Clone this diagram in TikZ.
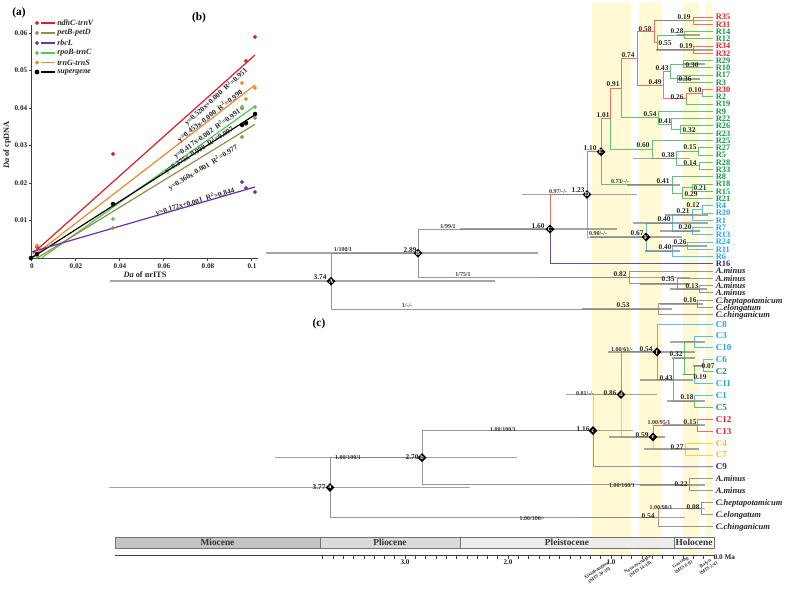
\documentclass[tikz,border=0pt]{standalone}
\usepackage{fontspec}
\setmainfont{Liberation Serif}
\usetikzlibrary{shapes.geometric}
\newcommand\myfs[1]{\fontsize{#1}{#1}\selectfont}
\definecolor{lr}{RGB}{226,32,38}
\definecolor{lg}{RGB}{22,150,72}
\definecolor{lb}{RGB}{36,164,228}
\definecolor{lp}{RGB}{44,36,146}
\definecolor{ly}{RGB}{244,188,30}
\definecolor{er}{RGB}{236,112,102}
\definecolor{eg}{RGB}{104,192,118}
\definecolor{eb}{RGB}{96,186,234}
\definecolor{ep}{RGB}{92,82,172}
\definecolor{ey}{RGB}{248,210,74}
\definecolor{ek}{RGB}{150,150,150}
\definecolor{bandc}{RGB}{255,250,212}
\definecolor{cr}{RGB}{220,30,40}
\definecolor{co}{RGB}{150,140,72}
\definecolor{cp}{RGB}{104,52,172}
\definecolor{cg}{RGB}{86,198,86}
\definecolor{cor}{RGB}{242,136,44}
\definecolor{mioc}{RGB}{196,196,196}
\definecolor{plioc}{RGB}{218,218,218}
\definecolor{pleic}{RGB}{236,236,236}
\definecolor{holoc}{RGB}{246,246,246}
\begin{document}
\begin{tikzpicture}[x=0.75pt,y=-0.75pt,
  e/.style={line width=0.6pt},
  hpd/.style={draw=black!50, line width=1.3pt, opacity=0.7},
  leafb/.style={anchor=west, inner sep=0pt, text height=4.3pt, text depth=0pt, font=\myfs{6.3}\bfseries},
  leafc/.style={anchor=west, inner sep=0pt, text height=4.5pt, text depth=0pt, font=\myfs{6.8}\bfseries},
  leafi/.style={anchor=west, inner sep=0pt, text height=4.3pt, text depth=0pt, font=\myfs{6.4}\bfseries\itshape, text=black!85},
  nl/.style={inner sep=0pt, text height=3.8pt, text depth=0pt, font=\myfs{5.5}\bfseries, text=black!85},
  sl/.style={inner sep=0pt, text height=3.2pt, text depth=0pt, font=\myfs{4.5}\bfseries, text=black!80},
  dm/.style={diamond, fill=black, inner sep=0pt, minimum size=6.8pt, text=white, font=\myfs{4.6}\bfseries},
  rg/.style={line width=0.9pt},
  rl/.style={inner sep=0pt, font=\myfs{5.5}\bfseries, text=black!85},
  ptm/.style={diamond, inner sep=0pt, minimum size=3.4pt, fill=#1},
  axl/.style={inner sep=0pt, font=\myfs{5.4}\bfseries, text=black!85},
  axt/.style={inner sep=0pt, font=\myfs{6.2}\bfseries, text=black!85},
  lgt/.style={anchor=west, inner sep=0pt, font=\myfs{6}\bfseries\itshape, text=black!85},
  pl/.style={inner sep=0pt, font=\myfs{8.5}\bfseries},
  tsb/.style={draw=black!55, line width=0.5pt},
  tsl/.style={inner sep=0pt, font=\myfs{7}\bfseries, text=black!80},
  rot/.style={rotate=33, align=center, font=\fontsize{3.7}{4.2}\selectfont\bfseries, inner sep=0pt, text=black!80},
  tk/.style={line width=0.45pt, black!75}]
\useasboundingbox (0,0) rectangle (787,591);
\fill[white] (0,0) rectangle (787,591);
% yellow bands
\fill[bandc] (592,3) rectangle (631,556);
\fill[bandc] (639,3) rectangle (662,556);
\fill[bandc] (683,3) rectangle (699,556);
\fill[bandc] (706,3) rectangle (712,556);

% ================= panel (a) =================
\node[pl] (pa) at (19,13) {(a)};
\draw[line width=0.5pt, black!75] (31,25) -- (31,258) -- (258,258);
\foreach \v/\y [count=\k] in {0.06/33,0.05/70.5,0.04/108,0.03/145.5,0.02/183,0.01/220.5}{
  \draw[line width=0.4pt, black!75] (28.5,\y) -- (31,\y);
  \node[axl, anchor=east] (yl\k) at (27.5,\y) {\v};
}
\foreach \v/\x [count=\k] in {0/31,0.02/75,0.04/119,0.06/163,0.08/207,0.1/251}{
  \draw[line width=0.4pt, black!75] (\x,258) -- (\x,260.5);
  \node[axl] (xl\k) at (\x+1,266) {\v};
}
\node[axt, rotate=90] (yat) at (7,145) {\textit{Da} of cpDNA};
\node[axt] (xat) at (145,275) {\textit{Da} of nrITS};
% regression lines
\draw[cr, rg] (32.8,253.5) -- (255,55);
\draw[cor, rg] (32,257) -- (255,85);
\draw[cg, rg] (41.6,258) -- (255,106.3);
\draw[black, rg] (32,257.6) -- (255,114.8);
\draw[co, rg] (37.2,258) -- (255,124.3);
\draw[cp, rg] (31,252) -- (255,187);
% points
\foreach \x/\y [count=\k] in {37/247,113/154,242/108,246/61,255/37}{\node[ptm=cr] (pr\k) at (\x,\y) {};}
\foreach \x/\y [count=\k] in {37/245.5,242/83,246/99,255/88}{\node[ptm=cor] (po\k) at (\x,\y) {};}
\foreach \x/\y [count=\k] in {37/256,113/219,242/107,255/107}{\node[ptm=cg] (pg\k) at (\x,\y) {};}
\foreach \x/\y [count=\k] in {113/228,242/137,246/124,255/118}{\node[ptm=co] (pv\k) at (\x,\y) {};}
\foreach \x/\y [count=\k] in {242/182,246/188,255/192}{\node[ptm=cp] (pp\k) at (\x,\y) {};}
\foreach \x/\y [count=\k] in {31/258,37/254,113/204,242/125,246/123,255/114}{\node[circle, fill=black, inner sep=0pt, minimum size=3.4pt] (pk\k) at (\x,\y) {};}
% regression labels
\node[rl, rotate=41.8] (r1) at (216,97) {y=0.520x+0.000\ \ R\textsuperscript{2}=0.951};
\node[rl, rotate=37.6] (r2) at (210,116) {y=0.453x-0.000\ \ R\textsuperscript{2}=0.990};
\node[rl, rotate=35.4] (r3) at (207,134) {y=0.417x-0.002\ \ R\textsuperscript{2}=0.991};
\node[rl, rotate=32.6] (r4) at (199,150) {y=0.375x-0.000\ \ R\textsuperscript{2}=0.997};
\node[rl, rotate=31.5] (r5) at (203,168) {y=0.360x-0.001\ \ R\textsuperscript{2}=0.977};
\node[rl, rotate=16.2] (r6) at (195,202) {y=0.172x+0.001\ \ R\textsuperscript{2}=0.844};
% legend
\foreach \y/\c/\t [count=\k] in {23/cr/ndhC-trnV,33/co/petB-petD,43/cp/rbcL,53/cg/rpoB-trnC,62.5/cor/trnG-trnS}{
  \draw[\c, line width=1.1pt] (41,\y) -- (55,\y);
  \node[ptm=\c] (lm\k) at (37,\y) {};
  \node[lgt] (lt\k) at (57,\y) {\t};
}
\draw[black, line width=1.1pt] (41,72) -- (55,72);
\node[circle, fill=black, inner sep=0pt, minimum size=3.6pt] (lm6) at (37,72) {};
\node[lgt] (lt6) at (57,72) {supergene};

% ================= panel (b) =================
\node[pl] (pb) at (199,18) {(b)};
\foreach \i/\t/\c in {0/R35/lr,1/R31/lr,2/R14/lg,3/R12/lg,4/R34/lr,5/R32/lr,6/R29/lg,7/R10/lg,8/R17/lg,9/R3/lg,10/R30/lr,11/R2/lg,12/R19/lg,13/R9/lg,14/R22/lg,15/R26/lg,16/R23/lg,17/R25/lg,18/R27/lg,19/R5/lg,20/R28/lg,21/R33/lg,22/R8/lg,23/R18/lg,24/R15/lg,25/R21/lg,26/R4/lb,27/R20/lb,28/R1/lb,29/R7/lb,30/R13/lb,31/R24/lb,32/R11/lb,33/R6/lb,34/R16/lp}{
  \coordinate (b\i) at (713,{17+7.26*\i});
  \node[leafb,text=\c] (bt\i) at (715.5,{17+7.26*\i}) {\t};
}
\foreach \i/\t in {35/A.minus,36/A.minus,37/A.minus,38/A.minus,39/C.heptapotamicum,40/C.elongatum,41/C.chinganicum}{
  \coordinate (b\i) at (713,{17+7.26*\i});
  \node[leafi] (bt\i) at (715.5,{17+7.26*\i}) {\t};
}
\coordinate (n1) at (693,20.63);
\coordinate (n2) at (684,35.15);
\coordinate (n3) at (693,49.67);
\coordinate (n4) at (657,42.41);
\coordinate (n5) at (654,31.52);
\coordinate (n6) at (683,64.19);
\coordinate (n7) at (677,78.71);
\coordinate (n8) at (670,71.45);
\coordinate (n9) at (702,93.23);
\coordinate (n10) at (686,98.68);
\coordinate (n11) at (663,85.06);
\coordinate (n12) at (637,58.29);
\coordinate (n13) at (680,129.53);
\coordinate (n14) at (671,124.08);
\coordinate (n15) at (658,117.73);
\coordinate (n16) at (621,88.01);
\coordinate (n17) at (698,151.31);
\coordinate (n18) at (699,165.83);
\coordinate (n19) at (676,158.57);
\coordinate (n20) at (652,149.5);
\coordinate (n21) at (610,118.75);
\coordinate (n22) at (692,187.61);
\coordinate (n23) at (682,193.06);
\coordinate (n24) at (672,184.89);
\coordinate (E) at (601,151.82);
\coordinate (n25) at (702,209.39);
\coordinate (n26) at (692,214.84);
\coordinate (n27) at (692,231.17);
\coordinate (n28) at (672,223.0);
\coordinate (n29) at (687,245.69);
\coordinate (n30) at (672,251.14);
\coordinate (F) at (646,237.07);
\coordinate (D) at (587,194.45);
\coordinate (C) at (550,229.15);
\coordinate (n31) at (699,289.25);
\coordinate (n32) at (677,283.8);
\coordinate (n33) at (629,277.45);
\coordinate (n34) at (697,303.77);
\coordinate (n35) at (658,309.2);
\coordinate (B) at (418,253.3);
\coordinate (A) at (331,281.25);
% edges (b)
\draw[e,er] (n1) |- (b0) (n1) |- (b1);
\draw[e,eg] (n2) |- (b2) (n2) |- (b3);
\draw[e,er] (n3) |- (b4) (n3) |- (b5);
\draw[e,eg] (n4) |- (n2);
\draw[e,er] (n4) |- (n3);
\draw[e,er] (n5) |- (n1) (n5) |- (n4);
\draw[e,eg] (n6) |- (b6) (n6) |- (b7);
\draw[e,eg] (n7) |- (b8) (n7) |- (b9);
\draw[e,eg] (n8) |- (n6) (n8) |- (n7);
\draw[e,er] (n9) |- (b10);
\draw[e,eg] (n9) |- (b11);
\draw[e,er] (n10) |- (n9);
\draw[e,eg] (n10) |- (b12);
\draw[e,er] (n11) |- (n8) (n11) |- (n10);
\draw[e,er] (n12) |- (n5) (n12) |- (n11);
\draw[e,eg] (n13) |- (b15) (n13) |- (b16);
\draw[e,eg] (n14) |- (b14) (n14) |- (n13);
\draw[e,eg] (n15) |- (b13) (n15) |- (n14);
\draw[e,er] (n16) |- (n12);
\draw[e,eg] (n16) |- (n15);
\draw[e,eg] (n17) |- (b18) (n17) |- (b19);
\draw[e,eg] (n18) |- (b20) (n18) |- (b21);
\draw[e,eg] (n19) |- (n17) (n19) |- (n18);
\draw[e,eg] (n20) |- (b17) (n20) |- (n19);
\draw[e,er] (n21) |- (n16);
\draw[e,eg] (n21) |- (n20);
\draw[e,eg] (n22) |- (b23) (n22) |- (b24);
\draw[e,eg] (n23) |- (n22) (n23) |- (b25);
\draw[e,eg] (n24) |- (b22) (n24) |- (n23);
\draw[e,er] (E) |- (n21);
\draw[e,eg] (E) |- (n24);
\draw[e,eb] (n25) |- (b26) (n25) |- (b27);
\draw[e,eb] (n26) |- (n25) (n26) |- (b28);
\draw[e,eb] (n27) |- (b29) (n27) |- (b30);
\draw[e,eb] (n28) |- (n26) (n28) |- (n27);
\draw[e,eb] (n29) |- (b31) (n29) |- (b32);
\draw[e,eb] (n30) |- (n29) (n30) |- (b33);
\draw[e,eb] (F) |- (n28) (F) |- (n30);
\draw[e,er] (D) |- (E);
\draw[e,eb] (D) |- (F);
\draw[e,er] (C) |- (D);
\draw[e,ep] (C) |- (b34);
\draw[e,ek] (n31) |- (b37) (n31) |- (b38);
\draw[e,ek] (n32) |- (b36) (n32) |- (n31);
\draw[e,ek] (n33) |- (b35) (n33) |- (n32);
\draw[e,ek] (n34) |- (b39) (n34) |- (b40);
\draw[e,ek] (n35) |- (n34) (n35) |- (b41);
\draw[e,ek] (B) |- (C) (B) |- (n33);
\draw[e,ek] (A) |- (B) (A) |- (n35);
% HPD bars (b)
\foreach \y/\xa/\xb in {281.25/110/495,253.3/266/538,229.15/460/617,194.45/522/637,237.07/590/682,277.45/540/690,309.2/582/672,20.63/655/713,49.67/656/713,64.19/683/705,78.71/677/700,35.15/677/700,184.89/627/680,158.57/633/690,223/633/708,214.84/665/708,231.17/660/700,245.69/672/707,251.14/645/680,283.8/640/690,289.25/670/707,303.77/660/703}{
  \draw[hpd] (\xa,\y) -- (\xb,\y);
}
% node labels (b)
\foreach \x/\y/\t [count=\k] in {684/16.5/0.19,677/31/0.28,686/46/0.19,665/43/0.55,645/28.5/0.58,692/64.5/0.30,685/79/0.36,662/68/0.43,695/89.5/0.10,677/96.5/0.26,655/81.5/0.49,628/54.5/0.74,689/129.5/0.32,665/120.5/0.41,650/113.5/0.54,613/84/0.91,603/115/1.01,643/145/0.60,690/147/0.15,668/155/0.38,690/162.5/0.14,663/180.5/0.41,700/187.5/0.21,691/193.5/0.29,590/147.5/1.10,578/190/1.23,693/205/0.12,683/211/0.21,664/219/0.40,685/227/0.20,637/233/0.67,680/241.5/0.26,665/247/0.40,538/226/1.60,410/249.5/2.89,320/277/3.74,620/273.5/0.82,668/279/0.35,692/285.5/0.13,690/299.5/0.16,623/305/0.53}{
  \node[nl] (q\k) at (\x,\y) {\t};
}
\node[sl] (s1) at (343,249.5) {1/100/1};
\node[sl] (s2) at (448,226) {1/99/1};
\node[sl] (s3) at (463,274) {1/75/1};
\node[sl] (s4) at (407,305) {1/-/-};
\node[sl] (s5) at (558,191.5) {0.97/-/-};
\node[sl] (s6) at (620,181.5) {0.73/-/-};
\node[sl] (s7) at (598,233.5) {0.90/-/-};
% diamonds (b)
\node[dm] (dA) at (A) {A};
\node[dm] (dB) at (B) {B};
\node[dm] (dC) at (C) {C};
\node[dm] (dD) at (D) {D};
\node[dm] (dE) at (E) {E};
\node[dm] (dF) at (F) {F};

% ================= panel (c) =================
\node[pl] (pc) at (319,324) {(c)};
\foreach \i/\t/\c in {0/C8/lb,1/C3/lb,2/C10/lb,3/C6/lb,4/C2/lg,5/C11/lb,6/C1/lb,7/C5/lg,8/C12/lr,9/C13/lr,10/C4/ly,11/C7/ly,12/C9/lp}{
  \coordinate (c\i) at (713,{324+11.9*\i});
  \node[leafc,text=\c] (ct\i) at (715.5,{324+11.9*\i}) {\t};
}
\foreach \i/\t in {13/A.minus,14/A.minus,15/C.heptapotamicum,16/C.elongatum,17/C.chinganicum}{
  \coordinate (c\i) at (713,{324+11.9*\i});
  \node[leafi] (ct\i) at (715.5,{324+11.9*\i}) {\t};
}
\coordinate (m1) at (694,341.85);
\coordinate (m2) at (703,365.65);
\coordinate (m3) at (694,374.58);
\coordinate (m4) at (684,358.21);
\coordinate (m5) at (694,401.35);
\coordinate (m6) at (673,379.78);
\coordinate (nf) at (657,351.89);
\coordinate (m7) at (697,425.15);
\coordinate (m8) at (685,448.95);
\coordinate (ne) at (653,437.05);
\coordinate (nd) at (621,394.47);
\coordinate (nc) at (593,430.6);
\coordinate (m9) at (689,484.65);
\coordinate (nb) at (422,457.6);
\coordinate (m10) at (701,508.45);
\coordinate (m11) at (658,517.4);
\coordinate (na) at (330,487.5);
\coordinate (c12m) at (673,466.8);
% edges (c)
\draw[e,eb] (m1) |- (c1) (m1) |- (c2);
\draw[e,eb] (m2) |- (c3);
\draw[e,eg] (m2) |- (c4);
\draw[e,eg] (m3) |- (m2);
\draw[e,eb] (m3) |- (c5);
\draw[e,eg] (m4) |- (m1) (m4) |- (m3);
\draw[e,eb] (m5) |- (c6);
\draw[e,eg] (m5) |- (c7);
\draw[e,ek] (m6) |- (m4) (m6) |- (m5);
\draw[e,eb] (nf) |- (c0);
\draw[e,eg] (nf) |- (m6);
\draw[e,er] (m7) |- (c8) (m7) |- (c9);
\draw[e,ey] (m8) |- (c10) (m8) |- (c11);
\draw[e,er] (ne) |- (m7);
\draw[e,ey] (ne) |- (m8);
\draw[e,eg] (nd) |- (nf);
\draw[e,ey] (nd) |- (ne);
\draw[e,ey] (nc) |- (nd);
\draw[e,ek] (nc) |- (c12m);
\draw[e,ep] (c12m) -- (c12);
\draw[e,ek] (m9) |- (c13) (m9) |- (c14);
\draw[e,ek] (nb) |- (nc) (nb) |- (m9);
\draw[e,ek] (m10) |- (c15) (m10) |- (c16);
\draw[e,ek] (m11) |- (m10) (m11) |- (c17);
\draw[e,ek] (na) |- (nb) (na) |- (m11);
% HPD bars (c)
\foreach \y/\xa/\xb in {394.47/566/657,430.6/512/633,457.6/275/517,487.5/109/470,351.89/608/695,358.21/672/695,379.78/640/693,374.58/682/695,341.85/670/705,365.65/693/703,401.35/667/705,437.05/609/665,425.15/663/705,448.95/644/699,484.65/640/705,508.45/686/705,517.4/580/685}{
  \draw[hpd] (\xa,\y) -- (\xb,\y);
}
% node labels (c)
\foreach \x/\y/\t [count=\k] in {646/349/0.54,676/353.5/0.32,708/366/0.07,700/376.5/0.19,666/377.5/0.43,687/397/0.18,610/393/0.86,690/422/0.15,642/435/0.59,677/447/0.27,583/429/1.16,412/457/2.70,319/487/3.77,681/484/0.22,693/507/0.08,648/516/0.54}{
  \node[nl] (w\k) at (\x,\y) {\t};
}
\node[sl] (t1) at (622,349) {1.00/61/-};
\node[sl] (t2) at (585,393) {0.81/-/-};
\node[sl] (t3) at (659,422) {1.00/95/1};
\node[sl] (t4) at (503,429) {1.00/100/1};
\node[sl] (t5) at (348,457) {1.00/100/1};
\node[sl] (t6) at (622,485) {1.00/100/1};
\node[sl] (t7) at (661,507) {1.00/98/1};
\node[sl] (t8) at (532,518) {1.00/100/-};
% diamonds (c)
\node[dm] (da) at (na) {a};
\node[dm] (db) at (nb) {b};
\node[dm] (dc) at (nc) {c};
\node[dm] (dd) at (nd) {d};
\node[dm] (df) at (nf) {f};
\node[dm] (de) at (ne) {e};

% ================= time scale =================
\draw[tsb, fill=mioc] (115,537) rectangle (320,548);
\draw[tsb, fill=plioc] (320,537) rectangle (460,548);
\draw[tsb, fill=pleic] (460,537) rectangle (674,548);
\draw[tsb, fill=holoc] (674,537) rectangle (714,548);
\node[tsl] (tm) at (217.5,542.7) {Miocene};
\node[tsl] (tp) at (390,542.7) {Pliocene};
\node[tsl] (tq) at (567,542.7) {Pleistocene};
\node[tsl] (th) at (694,542.7) {Holocene};
\draw[line width=0.7pt, black!75] (115,555) -- (714,555);
\foreach \t in {0,...,38}{
  \draw[tk] ({714-10.3*\t},555) -- ({714-10.3*\t},558.5);
}
\node[axl] (a3) at (405,562.5) {3.0};
\node[axl] (a2) at (508,562.5) {2.0};
\node[axl] (a1) at (611,562.5) {1.0};
\node[axl, anchor=west] (a0) at (713.5,557.5) {0.0 Ma};
\node[rot] (g1) at (598,573) {Xixiabangma\\(MIS 20-36)};
\node[rot] (g2) at (639,567) {Naynayxungla\\(MIS 14-18)};
\node[rot] (g3) at (682,565) {Gaxiang\\(MIS 6-8)};
\node[rot] (g4) at (707,566) {Baiyu\\(MIS 2-4)};
\end{tikzpicture}
\end{document}
